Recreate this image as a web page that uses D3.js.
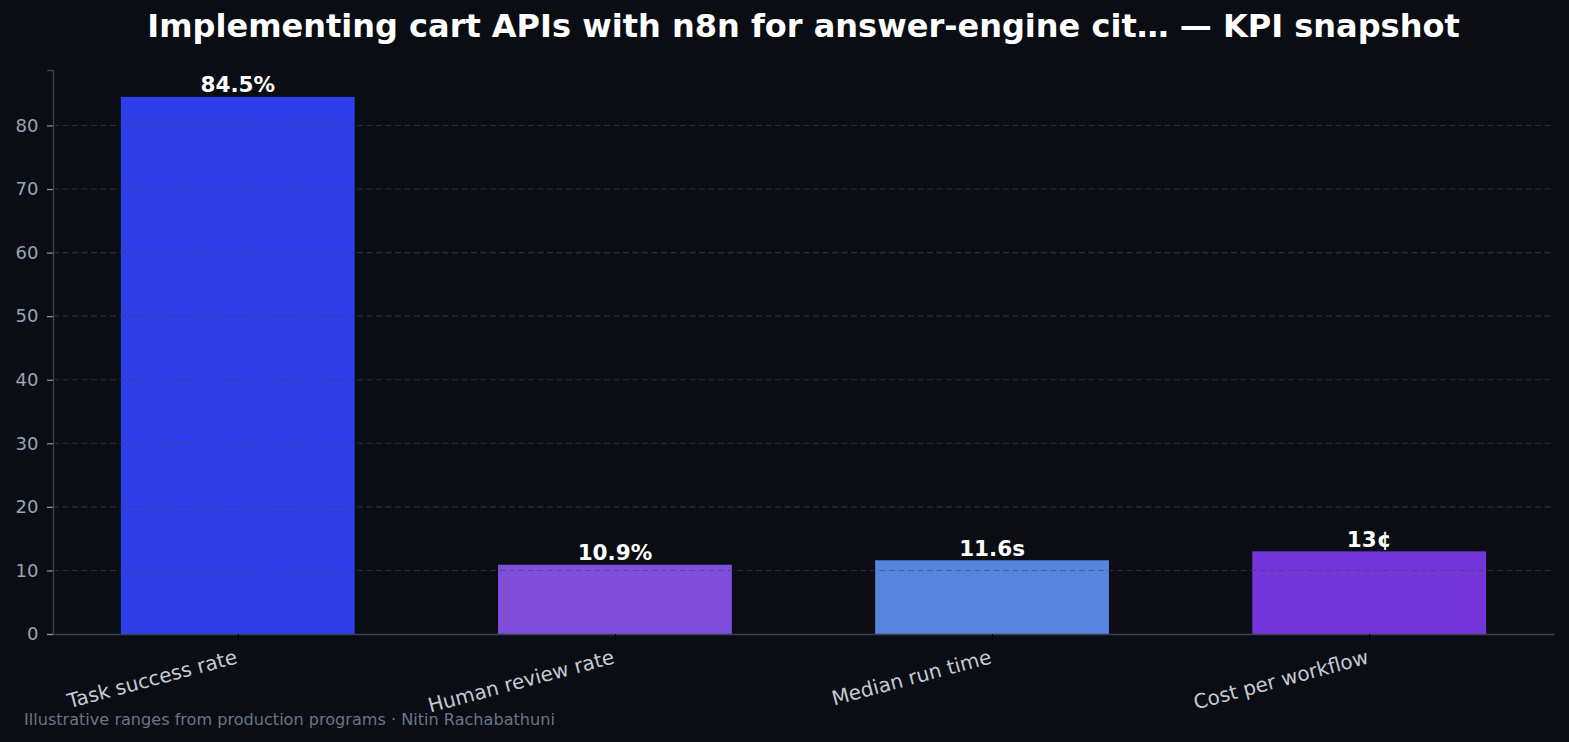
<!DOCTYPE html>
<html>
<head>
<meta charset="utf-8">
<script src="https://cdn.jsdelivr.net/npm/d3@7"></script>
<style>
  html, body { margin: 0; padding: 0; background: #0a0d14; }
  svg { display: block; font-family: 'DejaVu Sans', sans-serif; }
</style>
</head>
<body>
<div id="chart"></div>
<script>
const categories = ['Task success rate', 'Human review rate', 'Median run time', 'Cost per workflow']
const values = [84.5, 10.9, 11.6, 13]
const valueLabels = ['84.5%', '10.9%', '11.6s', '13¢']
const barColors = ['#2e3fea', '#7f4edb', '#5784df', '#7436d9']
const yTicks = [0, 10, 20, 30, 40, 50, 60, 70, 80]

const width = 1569
const height = 742
const margin = { top: 70, right: 15, bottom: 108, left: 53 }
const innerW = width - margin.left - margin.right
const innerH = height - margin.top - margin.bottom

const svg = d3.select('#chart').append('svg').attr('width', width).attr('height', height)
svg.append('rect').attr('width', width).attr('height', height).attr('fill', '#0a0d14')

const g = svg.append('g').attr('transform', `translate(${margin.left},${margin.top})`)

const x = d3.scaleLinear().domain([-0.49, categories.length - 0.51]).range([0, innerW])
const y = d3.scaleLinear().domain([0, d3.max(values) * 1.05]).range([innerH, 0])
const barW = x(0.62) - x(0)

// bars
g.selectAll('rect.bar')
  .data(values)
  .join('rect')
  .attr('class', 'bar')
  .attr('x', (d, i) => x(i) - barW / 2)
  .attr('width', barW)
  .attr('y', (d) => y(d))
  .attr('height', (d) => y(0) - y(d))
  .attr('fill', (d, i) => barColors[i])

// grid drawn above bars
g.selectAll('line.grid')
  .data(yTicks.filter((t) => t > 0))
  .join('line')
  .attr('class', 'grid')
  .attr('x1', 0)
  .attr('x2', innerW)
  .attr('y1', (d) => y(d))
  .attr('y2', (d) => y(d))
  .attr('stroke', '#3a4560')
  .attr('stroke-opacity', 0.6)
  .attr('stroke-width', 1.1)
  .attr('stroke-dasharray', '6,3.5')

// value labels
g.selectAll('text.val')
  .data(values)
  .join('text')
  .attr('class', 'val')
  .attr('x', (d, i) => x(i))
  .attr('y', (d) => y(d) - 4.5)
  .attr('text-anchor', 'middle')
  .attr('fill', '#ffffff')
  .attr('font-weight', 'bold')
  .attr('font-size', 21.5)
  .text((d, i) => valueLabels[i])

// y axis
const yAxis = g.append('g')
  .call(d3.axisLeft(y).tickValues(yTicks).tickSize(6).tickPadding(8.5))
yAxis.select('.domain').attr('stroke', '#3a4356').attr('stroke-width', 1.3)
yAxis.selectAll('.tick line').attr('stroke', '#8d97a8').attr('stroke-width', 1.2)
yAxis.selectAll('.tick text').attr('fill', '#9aa4b4').attr('font-size', 18).attr('font-family', 'DejaVu Sans')

// x axis
const xAxis = g.append('g')
  .attr('transform', `translate(0,${innerH})`)
  .call(d3.axisBottom(x).tickValues(d3.range(categories.length)).tickFormat((i) => categories[i]).tickSize(6).tickSizeOuter(0))
xAxis.select('.domain').attr('stroke', '#3a4356').attr('stroke-width', 1.3)
xAxis.selectAll('.tick line').attr('stroke', '#000000').attr('stroke-width', 1.2)
xAxis.selectAll('.tick text')
  .attr('fill', '#c5cad6')
  .attr('font-size', 20)
  .attr('font-family', 'DejaVu Sans')
  .attr('text-anchor', 'end')
  .attr('dy', null)
  .attr('y', 0)
  .attr('transform', 'translate(0,29) rotate(-15)')

// title, centred over the axes
svg.append('text')
  .attr('x', margin.left + innerW / 2)
  .attr('y', 37)
  .attr('text-anchor', 'middle')
  .attr('fill', '#ffffff')
  .attr('font-weight', 'bold')
  .attr('font-size', 32)
  .text('Implementing cart APIs with n8n for answer-engine cit… — KPI snapshot')

// footer
svg.append('text')
  .attr('x', 24)
  .attr('y', 725)
  .attr('fill', '#6b7589')
  .attr('font-size', 16.1)
  .text('Illustrative ranges from production programs · Nitin Rachabathuni')
</script>
</body>
</html>
